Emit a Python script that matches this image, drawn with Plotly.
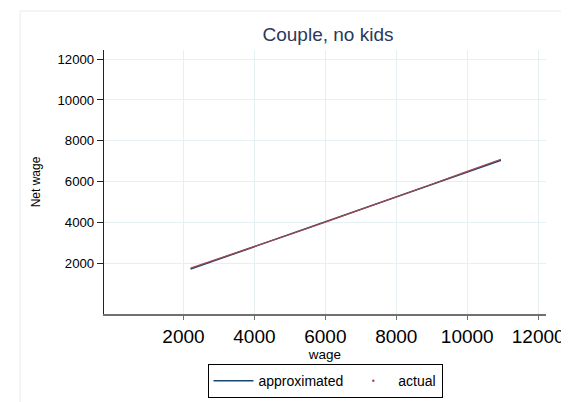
import plotly.graph_objects as go

# ---- data ----
wage = [2200, 3000, 4000, 5000, 6000, 7000, 8000, 9000, 10000, 10950]
approximated = [1730, 2216, 2824, 3432, 4040, 4648, 5256, 5864, 6472, 7050]
actual = [1775, 2240, 2830, 3420, 4025, 4635, 5255, 5875, 6505, 7100]

x_ticks = [2000, 4000, 6000, 8000, 10000, 12000]
y_ticks = [2000, 4000, 6000, 8000, 10000, 12000]

title_text = "Couple, no kids"
x_title = "wage"
y_title = "Net wage"

FONT = "Liberation Sans, Arial, Helvetica, sans-serif"
BLUE = "#1a476f"
RED = "#a8474d"
GRID = "#e6eff1"

fig = go.Figure()

fig.add_trace(go.Scatter(
    x=wage, y=approximated, mode="lines", name="approximated",
    line=dict(color=BLUE, width=1.6),
))
# actual: drawn as a dense trail of tiny markers in the original; shown as a thin line
fig.add_trace(go.Scatter(
    x=wage, y=actual, mode="lines", name="actual", showlegend=False,
    line=dict(color=RED, width=1.2),
))
# legend entry for "actual" (tiny dot)
fig.add_trace(go.Scatter(
    x=[None], y=[None], mode="markers", name="actual",
    marker=dict(color=RED, size=2.5),
))

W, H = 569, 402
L, R, T, B = 96, 25, 42, 96

fig.update_layout(
    width=W, height=H,
    margin=dict(l=L, r=R, t=T, b=B),
    paper_bgcolor="white",
    plot_bgcolor="white",
    font=dict(family=FONT, color="black", size=13),
    title=dict(
        text=title_text, x=(L + (W - L - R) / 2) / W, xanchor="center",
        y=1 - 26 / H, yanchor="middle", yref="container",
        font=dict(size=19, color="#2a395c", family=FONT),
    ),
    showlegend=True,
    legend=dict(
        orientation="h", x=0.5, xanchor="center", y=-0.19, yanchor="top",
        bordercolor="black", borderwidth=1, bgcolor="white",
        font=dict(size=14, family=FONT, color="black"),
        itemwidth=40,
    ),
    shapes=[dict(
        type="rect", xref="paper", yref="paper",
        x0=-(L - 11) / (W - L - R), x1=1 + (560 - (W - R)) / (W - L - R),
        y0=-(400 - (H - B)) / (H - T - B), y1=1 + (T - 3) / (H - T - B),
        line=dict(color="#e2ecee", width=1), fillcolor="rgba(0,0,0,0)",
        layer="below",
    )],
)

fig.update_xaxes(
    range=[-240, 12220], tickvals=x_ticks, ticktext=[str(v) for v in x_ticks],
    showgrid=True, gridcolor=GRID, gridwidth=1, zeroline=False,
    showline=True, linecolor="#707070", linewidth=1.6,
    ticks="outside", ticklen=4, tickcolor="#707070", tickwidth=1,
    tickfont=dict(size=19, family=FONT, color="black"),
    title=dict(text=x_title, font=dict(size=13.5, family=FONT, color="black"), standoff=4),
)
fig.update_yaxes(
    range=[-470, 12440], tickvals=y_ticks, ticktext=[str(v) for v in y_ticks],
    showgrid=True, gridcolor=GRID, gridwidth=1, zeroline=False,
    showline=True, linecolor="#222222", linewidth=1.3,
    ticks="outside", ticklen=6, tickcolor="#222222", tickwidth=1,
    tickfont=dict(size=13.2, family=FONT, color="black"),
    title=dict(text=y_title, font=dict(size=12, family=FONT, color="black"), standoff=14),
)

fig.write_html("out.html")
